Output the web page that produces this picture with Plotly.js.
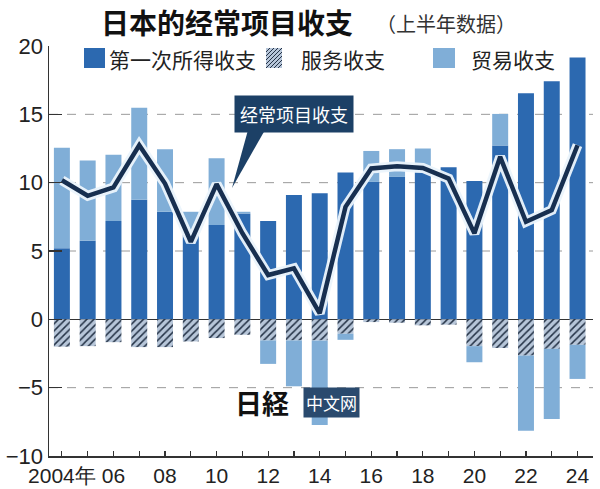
<!DOCTYPE html>
<html><head><meta charset="utf-8">
<script src="https://cdn.plot.ly/plotly-3.0.1.min.js"></script>
<style>html,body{margin:0;padding:0;background:#fff;}#chart{width:600px;height:489px;}</style>
</head><body><div id="chart"></div>
<script>
// ---- data (trillion yen, first half of each year) ----
const years = [2004,2005,2006,2007,2008,2009,2010,2011,2012,2013,2014,2015,2016,2017,2018,2019,2020,2021,2022,2023,2024];
const tickLabels = ["2004年","","06","","08","","10","","12","","14","","16","","18","","20","","22","","24"];
const primaryIncome = [5.2,5.75,7.2,8.75,7.87,6.2,6.9,7.75,7.2,9.1,9.23,10.75,10.06,10.42,10.75,11.13,10.13,12.72,16.54,17.42,19.15];
const services = [-2.0,-1.96,-1.67,-2.03,-2.03,-1.62,-1.37,-1.13,-1.54,-1.54,-1.54,-1.05,-0.2,-0.25,-0.44,-0.39,-1.96,-2.1,-2.65,-2.16,-1.86];
const trade = [7.35,5.87,4.85,6.73,4.58,1.67,4.88,0.12,-1.72,-3.36,-6.2,-0.45,2.26,2.03,1.75,0,-1.18,2.31,-5.5,-5.14,-2.5];
const currentAccount = [10.18,9.04,9.65,12.74,9.94,5.67,9.89,6.3,3.24,3.73,0.44,8.23,11.04,11.2,11.08,10.3,6.29,11.89,7.14,7.99,12.74];
const yTicks = [-10,-5,0,5,10,15,20];
const gridVals = [15,10,5,-5];
const seriesNames = ["第一次所得收支","服务收支","贸易收支","经常项目收支"];

// ---- style ----
const C_DARK = "#2c69b0", C_LIGHT = "#80aed7", C_HATCH_BG = "#b7c6d9", C_HATCH_FG = "#243246";
const C_LINE = "#172f50", C_BOX = "#1c4066", AX = "#333";
const NARROW = "Liberation Sans Narrow, Arial Narrow, Liberation Sans, sans-serif";
const CJK = "Noto Sans CJK SC, Noto Sans CJK JP, sans-serif";
const L = 49, R = 593, T = 46, B = 456;
const px = x => (x - L) / (R - L);
const py = y => (B - y) / (B - T);

const traces = [
  {type:"bar", x:years, y:primaryIncome, name:seriesNames[0], marker:{color:C_DARK, line:{width:0}}},
  {type:"bar", x:years, y:services, name:seriesNames[1], marker:{color:C_HATCH_BG, line:{width:0},
     pattern:{shape:"/", fgcolor:C_HATCH_FG, bgcolor:C_HATCH_BG, size:5, solidity:0.3}}},
  {type:"bar", x:years, y:trade, name:seriesNames[2], marker:{color:C_LIGHT, line:{width:0}}},
  {type:"scatter", mode:"lines", x:years, y:currentAccount, hoverinfo:"skip", showlegend:false,
     line:{color:"rgba(235,244,252,0.95)", width:10}},
  {type:"scatter", mode:"lines", x:years, y:currentAccount, name:seriesNames[3],
     line:{color:C_LINE, width:4.5}}
];

const shapes = gridVals.map(v => ({type:"line", xref:"paper", x0:0, x1:1, yref:"y", y0:v, y1:v,
  line:{color:"#9a9a9a", width:1, dash:"dash"}, layer:"below"}));

// legend swatches
function rect(x0,y0,x1,y1,color){return {type:"rect", xref:"paper", yref:"paper", x0:px(x0), x1:px(x1), y0:py(y1), y1:py(y0), fillcolor:color, line:{width:0}};}
shapes.push(rect(84,48,105,68,C_DARK));
shapes.push(rect(266,48,282,68,C_HATCH_BG));
(function(){
  let d = "";
  for (let k = -20; k <= 16; k += 4) {
    let xa = 266 + k, ya = 68;
    let t0 = Math.max(0, (266 - xa) / 20), t1 = Math.min(1, (282 - xa) / 20);
    if (t1 <= t0) continue;
    const X0 = xa + 20 * t0, Y0 = ya - 20 * t0, X1 = xa + 20 * t1, Y1 = ya - 20 * t1;
    d += `M${px(X0)},${py(Y0)} L${px(X1)},${py(Y1)} `;
  }
  shapes.push({type:"path", xref:"paper", yref:"paper", path:d, line:{color:C_HATCH_FG, width:1}});
})();
shapes.push(rect(433,48,455,68,C_LIGHT));
// callout wedge
shapes.push({type:"path", xref:"paper", yref:"paper",
  path:`M${px(248)},${py(130)} L${px(265)},${py(130)} L${px(232)},${py(188)} Z`,
  fillcolor:C_BOX, line:{width:0}});

const annotations = [
  {text:"（上半年数据）", xref:"paper", yref:"paper", x:px(374), y:py(24), xanchor:"left", yanchor:"middle",
   showarrow:false, font:{family:CJK, size:20, color:"#333"}},
  {text:seriesNames[0], xref:"paper", yref:"paper", x:px(107), y:py(59), xanchor:"left", yanchor:"middle",
   showarrow:false, font:{family:CJK, size:21, color:"#222"}},
  {text:seriesNames[1], xref:"paper", yref:"paper", x:px(299), y:py(59), xanchor:"left", yanchor:"middle",
   showarrow:false, font:{family:CJK, size:21, color:"#222"}},
  {text:seriesNames[2], xref:"paper", yref:"paper", x:px(469), y:py(59), xanchor:"left", yanchor:"middle",
   showarrow:false, font:{family:CJK, size:21, color:"#222"}},
  {text:seriesNames[3], xref:"paper", yref:"paper", x:px(294), y:py(114), xanchor:"center", yanchor:"middle",
   showarrow:false, bgcolor:C_BOX, borderpad:5, font:{family:CJK, size:18, color:"#fff"}},
  {text:"<b>日経</b>", xref:"paper", yref:"paper", x:px(262), y:py(402), xanchor:"center", yanchor:"middle",
   showarrow:false, font:{family:"Noto Sans CJK JP, sans-serif", size:27, color:"#111"}},
  {text:"中文网", xref:"paper", yref:"paper", x:px(331), y:py(402), xanchor:"center", yanchor:"middle",
   showarrow:false, bgcolor:"#2a4a6e", borderpad:2, font:{family:CJK, size:17, color:"#fff"}}
];

const layout = {
  width:600, height:489,
  margin:{l:L, r:600-R, t:T, b:489-B, pad:0},
  paper_bgcolor:"#fff", plot_bgcolor:"#fff",
  showlegend:false,
  barmode:"relative", bargap:0.38,
  title:{text:"日本的经常项目收支", font:{family:CJK, size:28, color:"#111", weight:"bold"},
    xref:"container", yref:"container", x:101/600, xanchor:"left", y:1-24/489, yanchor:"middle"},
  xaxis:{range:[2003.5,2024.6], tickvals:years, ticktext:tickLabels, ticks:"inside", ticklen:5, tickwidth:1.2,
    tickcolor:AX, showline:true, linecolor:AX, linewidth:1.5, showgrid:false, zeroline:false,
    tickfont:{family:NARROW, size:21, color:"#222"}},
  yaxis:{range:[-10,20], tickvals:yTicks, ticks:"inside", ticklen:13, tickwidth:1.5, tickcolor:AX,
    showline:true, linecolor:AX, linewidth:1.5, showgrid:false, zeroline:true, zerolinecolor:AX, zerolinewidth:1.5,
    tickfont:{family:NARROW, size:22, color:"#222"}},
  shapes:shapes, annotations:annotations
};

Plotly.newPlot("chart", traces, layout, {displayModeBar:false, staticPlot:true});
</script></body></html>
